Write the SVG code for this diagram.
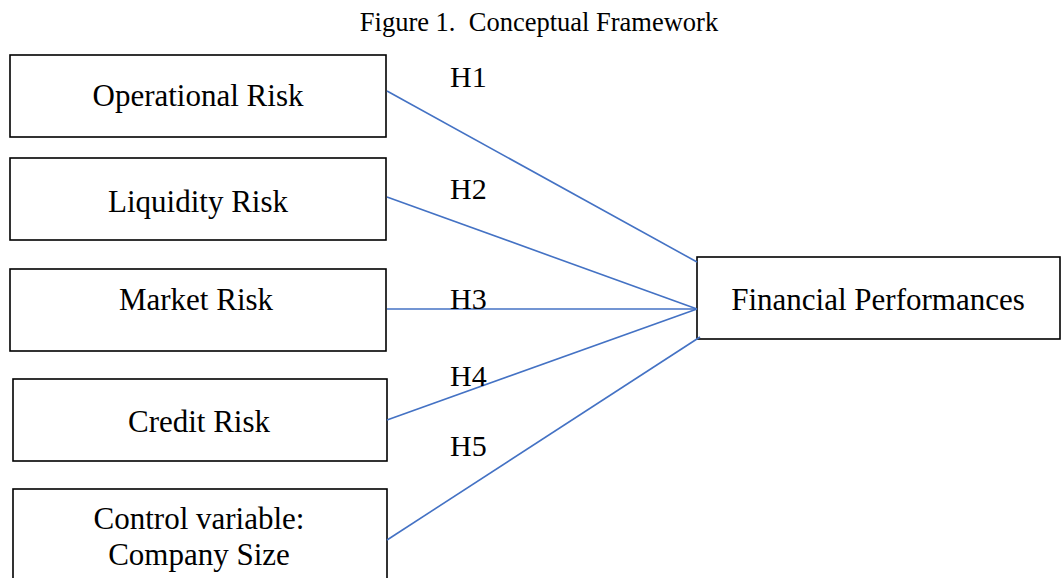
<svg xmlns="http://www.w3.org/2000/svg" width="1063" height="578" viewBox="0 0 1063 578">
<style>
.box{fill:#fff;stroke:#000;stroke-width:1.6}
.c{stroke:#4472C4;stroke-width:1.6;fill:none}
</style>
<rect width="1063" height="578" fill="#fff"/>
<g font-family="Liberation Serif, Times New Roman, serif" fill="#000">
<text x="539" y="31" font-size="26.5" text-anchor="middle" xml:space="preserve">Figure 1.  Conceptual Framework</text>
<g font-size="31" text-anchor="middle">
<g id="n1"><rect class="box" x="10" y="55" width="376" height="82"/><text x="198" y="106">Operational Risk</text></g>
<g id="n2"><rect class="box" x="10" y="158" width="376" height="82"/><text x="198" y="212">Liquidity Risk</text></g>
<g id="n3"><rect class="box" x="10" y="269" width="376" height="82"/><text x="196" y="310">Market Risk</text></g>
<g id="n4"><rect class="box" x="13" y="379" width="374" height="82"/><text x="199" y="432">Credit Risk</text></g>
<g id="n5"><rect class="box" x="13" y="489" width="374" height="100"/><text x="199" y="529">Control variable:</text><text x="199" y="565">Company Size</text></g>
<g id="n6"><rect class="box" x="697" y="257" width="363" height="82"/><text x="878" y="310">Financial Performances</text></g>
</g>
<g id="connectors">
<line class="c" x1="387" y1="91" x2="697" y2="262"/>
<line class="c" x1="387" y1="197" x2="697" y2="309"/>
<line class="c" x1="387" y1="309" x2="697" y2="309"/>
<line class="c" x1="387" y1="420" x2="697" y2="309"/>
<line class="c" x1="387" y1="540" x2="700" y2="337"/>
</g>
<g id="labels" font-size="30">
<text x="450" y="87">H1</text>
<text x="450" y="199">H2</text>
<text x="450" y="309">H3</text>
<text x="450" y="386">H4</text>
<text x="450" y="456">H5</text>
</g>
</g>
</svg>
